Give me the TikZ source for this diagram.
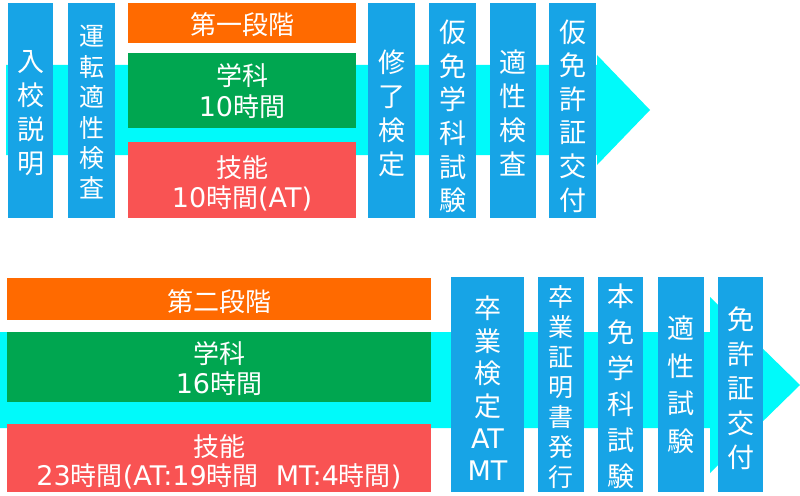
\documentclass[tikz,border=0pt]{standalone}
\usepackage{fontspec}
\setmainfont{Noto Sans CJK JP}
\newfontfamily\latn{DejaVu Sans}
\newcommand{\lt}[1]{{\latn\fontsize{27}{30}\selectfont #1}}
\definecolor{boxblue}{HTML}{17A4E6}
\definecolor{bandcyan}{HTML}{00FAFA}
\definecolor{stgorange}{HTML}{FF6A00}
\definecolor{stggreen}{HTML}{00A650}
\definecolor{stgred}{HTML}{F95353}
\tikzset{
  bbox/.style={fill=boxblue, inner sep=0pt, minimum width=46pt, minimum height=215pt},
  sbox/.style={inner sep=0pt},
  vtxt/.style={text=white, inner sep=0pt, align=center, font=\fontsize{27}{34}\selectfont},
  htxt/.style={text=white, inner sep=0pt, align=center, font=\fontsize{26}{30}\selectfont},
}
\begin{document}
\begin{tikzpicture}[x=1pt,y=-1pt]
\useasboundingbox (0,0) rectangle (800,495);
\fill[white] (0,0) rectangle (800,495);
% bands with arrowheads
\fill[bandcyan] (6,65) -- (597,65) -- (597,55) -- (650,110) -- (597,165) -- (597,155) -- (6,155) -- cycle;
\fill[bandcyan] (0,332) -- (710,332) -- (710,297) -- (800,385) -- (710,473) -- (710,428) -- (0,428) -- cycle;
% top row boxes
\node[bbox, minimum width=45pt] (a1) at (30.5,110.5) {};
\node[bbox, minimum width=47pt] (a2) at (91.5,110.5) {};
\node[sbox, fill=stgorange, minimum width=228pt, minimum height=40pt] (o1) at (242,23) {};
\node[sbox, fill=stggreen, minimum width=228pt, minimum height=75pt] (g1) at (242,90.5) {};
\node[sbox, fill=stgred, minimum width=228pt, minimum height=76pt] (r1) at (242,180) {};
\node[bbox, minimum width=47pt] (a3) at (391.5,110.5) {};
\node[bbox, minimum width=47pt] (a4) at (452.5,110.5) {};
\node[bbox] (a5) at (513,110.5) {};
\node[bbox, minimum width=47pt] (a6) at (572.5,110.5) {};
% top row texts
\node[vtxt] (a1t) at ([yshift=-3pt]a1.center) {入\\校\\説\\明};
\node[vtxt, font=\fontsize{25}{30.4}\selectfont] (a2t) at ([yshift=-2pt]a2.center) {運\\転\\適\\性\\検\\査};
\node[htxt] (o1t) at ([yshift=-2pt]o1.center) {第一段階};
\node[htxt, font=\fontsize{26}{31}\selectfont] (g1t) at ([yshift=-1pt]g1.center) {学科\\\lt{10}時間};
\node[htxt] (r1t) at ([yshift=-3pt]r1.center) {技能\\\lt{10}時間\lt{(AT)}};
\node[vtxt] (a3t) at ([yshift=-3pt]a3.center) {修\\了\\検\\定};
\node[vtxt, font=\fontsize{27}{33.6}\selectfont] (a4t) at ([yshift=-6pt]a4.center) {仮\\免\\学\\科\\試\\験};
\node[vtxt] (a5t) at ([yshift=-2pt]a5.center) {適\\性\\検\\査};
\node[vtxt, font=\fontsize{27}{33.6}\selectfont] (a6t) at ([yshift=-5.5pt]a6.center) {仮\\免\\許\\証\\交\\付};
% bottom row boxes
\node[sbox, fill=stgorange, minimum width=424pt, minimum height=42pt] (o2) at (219,299) {};
\node[sbox, fill=stggreen, minimum width=424pt, minimum height=70pt] (g2) at (219,367) {};
\node[sbox, fill=stgred, minimum width=424pt, minimum height=68pt] (r2) at (219,458) {};
\node[bbox, minimum width=73pt] (b1) at (487.5,384.5) {};
\node[bbox] (b2) at (561,384.5) {};
\node[bbox, minimum width=45pt] (b3) at (620.5,384.5) {};
\node[bbox] (b4) at (681,384.5) {};
\node[bbox, minimum width=45pt] (b5) at (740.5,384.5) {};
% bottom row texts
\node[htxt] (o2t) at ([yshift=-2.5pt]o2.center) {第二段階};
\node[htxt] (g2t) at ([yshift=-1.5pt]g2.center) {学科\\\lt{16}時間};
\node[htxt, font=\fontsize{26}{28.5}\selectfont] (r2t) at ([yshift=-4pt]r2.center) {技能\\\lt{23}時間\lt{(AT:19}時間\lt{\ \ MT:4}時間\lt{)}};
\node[vtxt, font=\fontsize{27}{32.4}\selectfont] (b1t) at ([yshift=-4pt]b1.center) {卒\\業\\検\\定\\\lt{AT}\\\lt{MT}};
\node[vtxt, font=\fontsize{25}{30}\selectfont] (b2t) at ([yshift=-3pt]b2.center) {卒\\業\\証\\明\\書\\発\\行};
\node[vtxt, font=\fontsize{27}{36}\selectfont] (b3t) at ([yshift=-2pt]b3.center) {本\\免\\学\\科\\試\\験};
\node[vtxt, font=\fontsize{27}{37.5}\selectfont] (b4t) at (b4.center) {適\\性\\試\\験};
\node[vtxt, font=\fontsize{27}{34.5}\selectfont] (b5t) at ([yshift=-4pt]b5.center) {免\\許\\証\\交\\付};
\end{tikzpicture}
\end{document}
